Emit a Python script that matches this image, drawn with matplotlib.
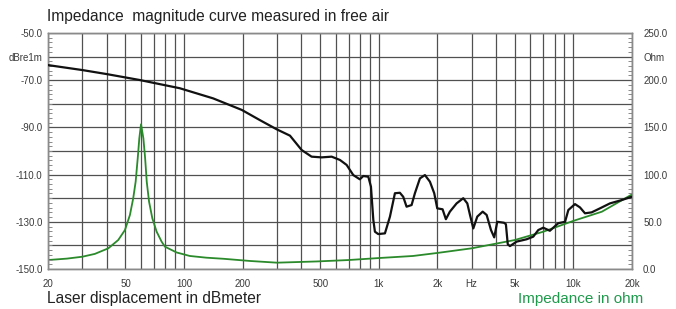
import matplotlib
matplotlib.use('Agg')
import matplotlib.pyplot as plt
from matplotlib.ticker import FixedLocator, FixedFormatter, MultipleLocator

# ── Colours ──
BLACK, GREEN, LABEL_GREEN = '#111111', '#2b8a2b', '#1f9a4c'
GRID, SPINE, TICK_TXT = '#505050', '#8a8a8a', '#3a3a3a'

plt.rcParams['font.family'] = ['Liberation Sans', 'DejaVu Sans']
TICK_FONT = ['Liberation Sans Narrow', 'Liberation Sans', 'DejaVu Sans']

# ── Laser displacement (dB re 1 m) ──
disp_freq = [20, 30, 40, 59, 95, 141, 198, 245, 299, 350, 402, 452, 509, 573,
             632, 684, 740, 800, 833, 884, 912, 938, 956, 994, 1076, 1142,
             1211, 1284, 1336, 1390, 1475, 1534, 1628, 1727, 1832, 1928, 1998,
             2128, 2213, 2320, 2512, 2718, 2851, 2943, 3061, 3208, 3420, 3584,
             3773, 3920, 4063, 4398, 4500, 4600, 4720, 5110, 5750, 6220, 6600,
             7000, 7570, 8360, 9060, 9420, 10190, 10810, 11470, 12410, 13690,
             15410, 17690, 19900]
disp_db = [-63.6, -65.7, -67.4, -69.9, -73.4, -77.7, -82.6, -86.9, -90.8, -93.5,
           -99.6, -102.4, -102.7, -102.4, -103.8, -105.9, -110.2, -112.0, -110.6,
           -110.9, -115.1, -129.2, -134.2, -135.2, -134.9, -127.8, -117.9, -117.7,
           -119.4, -123.6, -122.9, -117.9, -111.6, -110.2, -113.0, -117.9, -124.3,
           -124.7, -128.9, -125.7, -122.2, -120.0, -122.2, -127.1, -132.8, -127.8,
           -125.7, -127.1, -133.5, -136.6, -130.0, -130.4, -131.0, -139.5, -140.3,
           -138.4, -137.4, -136.3, -133.5, -132.5, -133.8, -130.6, -130.0, -125.0,
           -122.5, -123.9, -126.4, -126.0, -124.3, -122.2, -120.8, -119.4]

# ── Impedance magnitude (ohm) ──
imp_freq = [20, 25, 30, 34.8, 40.8, 45.9, 49.7, 52.7, 54.8, 56.4, 57.8, 58.9,
            60.1, 61.8, 63.1, 64.3, 66.1, 68.7, 72.3, 76.7, 79.8, 91.6, 107,
            130, 160, 218, 300, 480, 700, 1000, 1500, 2000, 3000, 5000, 7000,
            10000, 14000, 20000]
imp_ohm = [9.5, 11.0, 13.0, 16.0, 21.9, 30.7, 41.3, 57.2, 74.9, 92.5, 117.3,
           138.4, 153.3, 138.4, 117.3, 92.5, 71.3, 53.7, 39.5, 28.9, 23.6, 17.5,
           13.8, 12.0, 10.8, 8.5, 6.7, 8.0, 9.5, 11.6, 13.8, 17.0, 21.9, 30.7,
           39.5, 51.0, 60.7, 79.0]

# ── Axis ticks ──
x_major = [20, 50, 100, 200, 500, 1000, 2000, 3000, 5000, 10000, 20000]
x_labels = ['20', '50', '100', '200', '500', '1k', '2k', 'Hz', '5k', '10k', '20k']
x_minor = [30, 40, 60, 70, 80, 90, 300, 400, 600, 700, 800, 900,
           4000, 6000, 7000, 8000, 9000]
db_ticks = [-50, -60, -70, -90, -110, -130, -150]
db_labels = ['-50.0', 'dBre1m', '-70.0', '-90.0', '-110.0', '-130.0', '-150.0']
ohm_ticks = [0, 25, 50, 75, 100, 125, 150, 175, 200, 225, 250]
ohm_labels = ['0.0', '', '50.0', '', '100.0', '', '150.0', '', '200.0', 'Ohm', '250.0']

fig = plt.figure(figsize=(6.76, 3.09), dpi=100)
ax = fig.add_axes([48 / 676, 40 / 309, 584 / 676, 236 / 309])   # impedance + grid
ax2 = ax.twinx()                                                 # displacement

ax.set_xscale('log')
ax.set_xlim(20, 20000)
ax.set_ylim(0, 250)
ax2.set_ylim(-150, -50)

# impedance axis on the right, dB axis on the left
ax.yaxis.tick_right()
ax2.yaxis.tick_left()

ax.plot(imp_freq, imp_ohm, color=GREEN, lw=1.3, zorder=3)
ax2.plot(disp_freq, disp_db, color=BLACK, lw=1.6, zorder=4)

# x ticks + vertical grid
ax.xaxis.set_major_locator(FixedLocator(x_major))
ax.xaxis.set_major_formatter(FixedFormatter(x_labels))
ax.xaxis.set_minor_locator(FixedLocator(x_minor))
ax.xaxis.set_minor_formatter(FixedFormatter([''] * len(x_minor)))
ax.tick_params(axis='x', which='both', length=0, pad=7, labelsize=7, labelcolor=TICK_TXT)
ax.grid(True, axis='x', which='both', color=GRID, lw=0.9)

# right (ohm) ticks + horizontal grid
ax.yaxis.set_major_locator(FixedLocator(ohm_ticks))
ax.yaxis.set_major_formatter(FixedFormatter(ohm_labels))
ax.yaxis.set_minor_locator(MultipleLocator(5))
ax.tick_params(axis='y', which='major', length=0, pad=8, labelsize=7, labelcolor=TICK_TXT)
ax.tick_params(axis='y', which='minor', direction='in', length=3, color=SPINE, width=0.7)
ax.grid(True, axis='y', which='major', color=GRID, lw=0.9)

# left (dB) ticks
ax2.yaxis.set_major_locator(FixedLocator(db_ticks))
ax2.yaxis.set_major_formatter(FixedFormatter(db_labels))
ax2.yaxis.set_minor_locator(MultipleLocator(2))
ax2.tick_params(axis='y', which='major', length=0, pad=4, labelsize=7, labelcolor=TICK_TXT)
ax2.tick_params(axis='y', which='minor', direction='in', length=3, color=SPINE, width=0.7)

for a in (ax, ax2):
    for lbl in a.get_xticklabels() + a.get_yticklabels():
        lbl.set_family(TICK_FONT)
    for s in a.spines.values():
        s.set_color(SPINE)
        s.set_linewidth(1.0)

# ── Captions ──
fig.text(47 / 676, 1 - 16 / 309, 'Impedance  magnitude curve measured in free air',
         ha='left', va='center', fontsize=11.2, color='#222222')
fig.text(47 / 676, 1 - 299 / 309, 'Laser displacement in dBmeter',
         ha='left', va='center', fontsize=11.2, color='#222222')
fig.text(643 / 676, 1 - 299 / 309, 'Impedance in ohm',
         ha='right', va='center', fontsize=11, color=LABEL_GREEN)

fig.savefig('out.png', dpi=100, facecolor='white')
plt.close(fig)
